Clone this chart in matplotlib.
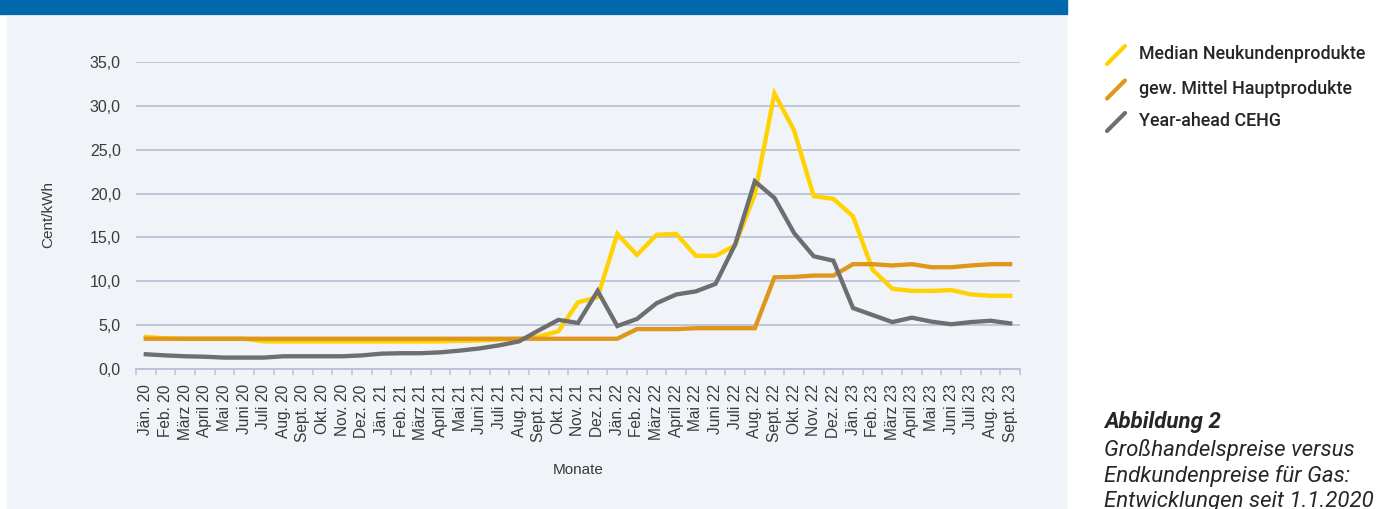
import matplotlib
matplotlib.use("Agg")
import matplotlib.pyplot as plt
from matplotlib.patches import Rectangle
from matplotlib.lines import Line2D
import numpy as np

# ---------------- data ----------------
months = [
    "Jän. 20", "Feb. 20", "März 20", "April 20", "Mai 20", "Juni 20", "Juli 20", "Aug. 20",
    "Sept. 20", "Okt. 20", "Nov. 20", "Dez. 20",
    "Jän. 21", "Feb. 21", "März 21", "April 21", "Mai 21", "Juni 21", "Juli 21", "Aug. 21",
    "Sept. 21", "Okt. 21", "Nov. 21", "Dez. 21",
    "Jän. 22", "Feb. 22", "März 22", "April 22", "Mai 22", "Juni 22", "Juli 22", "Aug. 22",
    "Sept. 22", "Okt. 22", "Nov. 22", "Dez. 22",
    "Jän. 23", "Feb. 23", "März 23", "April 23", "Mai 23", "Juni 23", "Juli 23", "Aug. 23",
    "Sept. 23",
]

median_neukunden = [
    3.65, 3.5, 3.45, 3.45, 3.45, 3.45, 3.15, 3.15, 3.15, 3.15, 3.15, 3.15,
    3.15, 3.15, 3.15, 3.15, 3.2, 3.25, 3.35, 3.45, 3.7, 4.3, 7.6, 8.2,
    15.4, 13.0, 15.3, 15.4, 12.9, 12.9, 14.1, 19.9, 31.4, 27.2, 19.7, 19.4,
    17.4, 11.3, 9.15, 8.9, 8.9, 9.0, 8.5, 8.35, 8.35,
]

gew_mittel_haupt = [
    3.45, 3.45, 3.45, 3.45, 3.45, 3.45, 3.45, 3.45, 3.45, 3.45, 3.45, 3.45,
    3.45, 3.45, 3.45, 3.45, 3.45, 3.45, 3.45, 3.45, 3.45, 3.45, 3.45, 3.45,
    3.45, 4.55, 4.55, 4.55, 4.65, 4.65, 4.65, 4.65, 10.45, 10.5, 10.65, 10.65,
    11.95, 11.95, 11.8, 11.95, 11.6, 11.6, 11.8, 11.95, 11.95,
]

year_ahead_cehg = [
    1.68, 1.55, 1.45, 1.4, 1.3, 1.3, 1.3, 1.45, 1.45, 1.45, 1.45, 1.55,
    1.75, 1.8, 1.8, 1.9, 2.1, 2.35, 2.7, 3.15, 4.4, 5.6, 5.25, 8.9,
    4.9, 5.7, 7.5, 8.5, 8.85, 9.7, 14.2, 21.4, 19.5, 15.5, 12.85, 12.35,
    6.95, 6.15, 5.35, 5.85, 5.4, 5.1, 5.35, 5.5, 5.2,
]

series_names = ["Median Neukundenprodukte", "gew. Mittel Hauptprodukte", "Year-ahead CEHG"]
y_ticks = [0, 5, 10, 15, 20, 25, 30, 35]
y_tick_labels = ["0,0", "5,0", "10,0", "15,0", "20,0", "25,0", "30,0", "35,0"]
y_label = "Cent/kWh"
x_label = "Monate"
caption_title = "Abbildung 2"
caption_lines = ["Großhandelspreise versus", "Endkundenpreise für Gas:", "Entwicklungen seit 1.1.2020"]

# ---------------- style ----------------
C_YELLOW = "#FFD200"
C_ORANGE = "#E0961A"
C_GRAY = "#6E6E70"
C_GRID = "#B9C3D7"
C_PANEL = "#F0F3F8"
C_BLUE = "#0068AD"
C_TEXT = "#3A3A3A"

W, H = 1381, 509
fig = plt.figure(figsize=(W / 100, H / 100), dpi=100)
fig.patch.set_facecolor("white")


def fx(px):
    return px / W


def fy(py):
    return 1 - py / H


# header bar and panel
fig.patches.append(Rectangle((0, fy(14)), fx(1067), 14 / H, transform=fig.transFigure,
                             color=C_BLUE, zorder=-10))
fig.patches.append(Rectangle((fx(7), 0), fx(1066) - fx(7), fy(15.5), transform=fig.transFigure,
                             color=C_PANEL, zorder=-10))

ax = fig.add_axes([fx(136), fy(369), fx(1020) - fx(136), (369 - 62) / H])
ax.set_facecolor("none")
ax.set_zorder(1)

x = np.arange(len(months))
colors = [C_YELLOW, C_ORANGE, C_GRAY]
for vals, col, name, z in zip([median_neukunden, gew_mittel_haupt, year_ahead_cehg], colors,
                              series_names, [3, 4, 5]):
    ax.plot(x, vals, color=col, lw=3.1, label=name, zorder=z, solid_joinstyle="miter")

ax.set_xlim(-0.5, len(months) - 0.5)
ax.set_ylim(0, 35)

ax.set_yticks(y_ticks)
ax.set_yticklabels(y_tick_labels)
ax.yaxis.grid(True, color=C_GRID, lw=1.3, zorder=1)
ax.set_axisbelow(True)

ax.set_xticks(x)
ax.set_xticklabels(months, rotation=90)
ax.set_xticks(np.arange(-0.5, len(months)), minor=True)
ax.tick_params(axis="x", which="major", length=0, pad=11, labelsize=11.2, labelcolor=C_TEXT)
ax.tick_params(axis="x", which="minor", length=4.5, width=1.1, color=C_GRID, direction="out")
ax.tick_params(axis="y", length=0, pad=11, labelsize=11.5, labelcolor=C_TEXT)

for s in ["top", "right", "left"]:
    ax.spines[s].set_visible(False)
ax.spines["bottom"].set_color(C_GRID)
ax.spines["bottom"].set_linewidth(1.3)

for lab in ax.get_xticklabels() + ax.get_yticklabels():
    lab.set_fontfamily("Liberation Sans")

fig.text(fx(48), fy(215), y_label, rotation=90, ha="center", va="center",
         fontsize=11, color=C_TEXT, family="Liberation Sans")
fig.text(fx(578), fy(470), x_label, ha="center", va="center",
         fontsize=11, color=C_TEXT, family="Liberation Sans")

# legend (slanted line markers)
leg_y = [54, 88.5, 121]
for name, col, yc in zip(series_names, colors, leg_y):
    fig.add_artist(Line2D([fx(1107), fx(1125)], [fy(yc + 10), fy(yc - 8)], transform=fig.transFigure,
                          color=col, lw=3.0, solid_capstyle="round"))
    fig.text(fx(1139), fy(yc), name, ha="left", va="center", fontsize=12.9,
             color="#262626", family="Roboto", fontweight="medium")

# caption
fig.text(fx(1104), fy(422), caption_title, ha="left", va="center", fontsize=16,
         color="#262626", family="Roboto", fontweight="bold", fontstyle="italic")
for i, line in enumerate(caption_lines):
    fig.text(fx(1104), fy(450 + 26 * i), line, ha="left", va="center", fontsize=16,
             color="#262626", family="Roboto", fontstyle="italic")

fig.savefig("out.png", dpi=100)
